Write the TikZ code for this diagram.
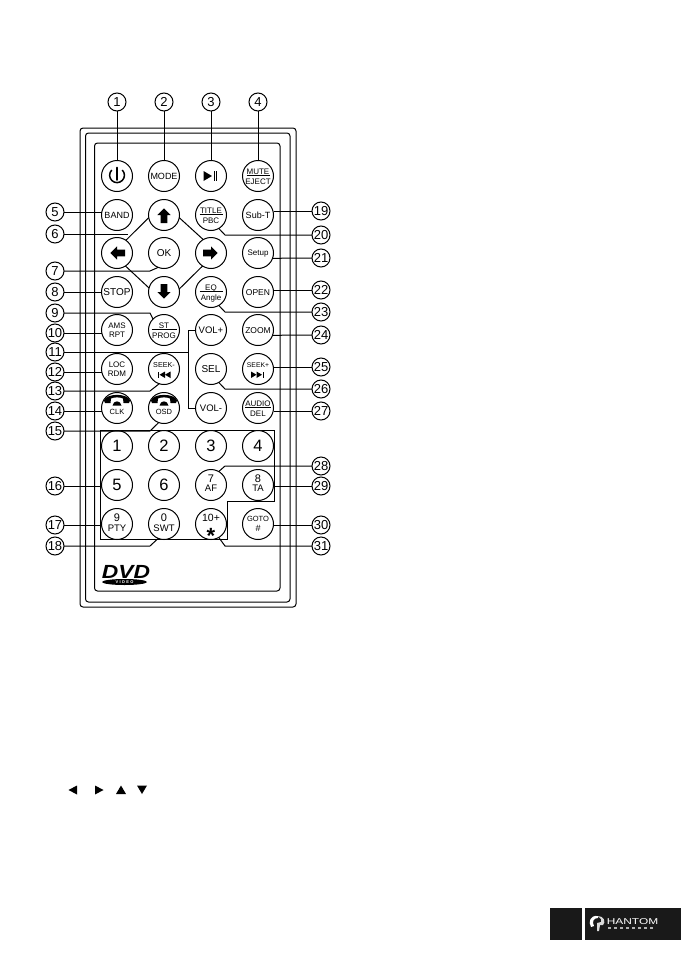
\documentclass[tikz,border=0pt]{standalone}
\usepackage{fontspec}
\setmainfont{Liberation Sans}
\usetikzlibrary{calc}
\setlength{\unitlength}{1pt}
\newcommand\fs[1]{\fontsize{#1}{#1}\selectfont}
% centred single line, two lines (top, bottom, raises), ruled two lines
\newcommand\oneL[2]{\makebox(0,0){\smash{\fs{#1}\makebox[0pt]{\raisebox{-.36em}{#2}}}}}
\newcommand\twoL[6]{\makebox(0,0){\smash{\makebox[0pt]{\raisebox{#3pt}{\fs{#1}#2}}\makebox[0pt]{\raisebox{#6pt}{\fs{#4}#5}}}}}
\newcommand\ruleL[3]{\makebox(0,0){\smash{\fs{8}\makebox[0pt]{\raisebox{2pt}{#1}}\makebox[0pt]{\rule[0pt]{#3pt}{.8pt}}\makebox[0pt]{\raisebox{-8pt}{#2}}}}}
\tikzset{
  btn/.style={circle,draw=black,fill=white,line width=1pt,minimum size=31pt,inner sep=0pt,outer sep=0pt},
  tag/.style={circle,draw=black,fill=white,line width=1pt,minimum size=18pt,inner sep=0pt,outer sep=0pt},
  wire/.style={draw=black,line width=1pt},
  body/.style={draw=black,line width=1pt,rounded corners=3pt}
}
\newcommand\tagn[3]{\node[tag] (c#1) at (#2,#3) {\oneL{13}{#1}};}
\begin{document}
\begin{tikzpicture}[x=1pt,y=-1pt]
\useasboundingbox (0,0) rectangle (681,964);
\fill[white] (0,0) rectangle (681,964);
% remote body
\path[body] (80,128) rectangle (296,607);
\path[body] (85.5,133) rectangle (290,602);
\path[body] (94.5,143) rectangle (280,591);
% key block outline
\draw[wire] (100,430) -- (274,430) -- (274,501) -- (227,501) -- (227,539) -- (100,539) -- cycle;
% buttons
\node[btn] (power) at (117,176) {};
\node[btn] (mode) at (164,176) {\oneL{9}{MODE}};
\node[btn] (play) at (211,176) {};
\node[btn] (mute) at (258,176) {\ruleL{MUTE}{EJECT}{23}};
\node[btn] (band) at (117,215) {\oneL{9}{BAND}};
\node[btn] (up) at (164,215) {};
\node[btn] (title) at (211,215) {\ruleL{TITLE}{PBC}{23}};
\node[btn] (subt) at (258,215) {\oneL{9}{Sub-T}};
\node[btn] (left) at (117,253) {};
\node[btn] (ok) at (164,253) {\oneL{10}{OK}};
\node[btn] (right) at (211,253) {};
\node[btn] (setup) at (258,253) {\oneL{8}{Setup}};
\node[btn] (stop) at (117,292) {\oneL{10}{STOP}};
\node[btn] (down) at (164,292) {};
\node[btn] (eq) at (211,292) {\ruleL{EQ}{Angle}{23}};
\node[btn] (open) at (258,292) {\oneL{8.5}{OPEN}};
\node[btn] (ams) at (117,330) {\twoL{8}{AMS}{1.7}{8}{RPT}{-7.3}};
\node[btn] (st) at (164,330) {\ruleL{ST}{PROG}{25}};
\node[btn] (volp) at (211,330) {\oneL{9.5}{VOL+}};
\node[btn] (zoom) at (258,330) {\oneL{8.5}{ZOOM}};
\node[btn] (loc) at (117,369) {\twoL{8}{LOC}{1.7}{8}{RDM}{-7.3}};
\node[btn] (seekm) at (164,369) {\twoL{7.2}{SEEK-}{2}{7}{}{0}};
\node[btn] (sel) at (211,369) {\oneL{10}{SEL}};
\node[btn] (seekp) at (258,369) {\twoL{6.8}{SEEK+}{2}{7}{}{0}};
\node[btn] (clk) at (117,408) {\twoL{7.5}{}{0}{7.5}{CLK}{-6.7}};
\node[btn] (osd) at (164,408) {\twoL{7.5}{}{0}{7.5}{OSD}{-6.7}};
\node[btn] (volm) at (211,408) {\oneL{9.5}{VOL-}};
\node[btn] (audio) at (258,408) {\ruleL{AUDIO}{DEL}{26}};
\node[btn] (k1) at (117,446) {\oneL{16.5}{1}};
\node[btn] (k2) at (164,446) {\oneL{16.5}{2}};
\node[btn] (k3) at (211,446) {\oneL{16.5}{3}};
\node[btn] (k4) at (258,446) {\oneL{16.5}{4}};
\node[btn] (k5) at (117,485) {\oneL{16.5}{5}};
\node[btn] (k6) at (164,485) {\oneL{16.5}{6}};
\node[btn] (k7) at (211,485) {\twoL{11}{7}{2.7}{9.5}{AF}{-6.7}};
\node[btn] (k8) at (258,485) {\twoL{11}{8}{2.7}{9.5}{TA}{-6.7}};
\node[btn] (k9) at (117,524) {\twoL{11}{9}{3}{9.5}{PTY}{-7}};
\node[btn] (k0) at (164,524) {\twoL{11}{0}{3}{9.5}{SWT}{-7}};
\node[btn] (k10) at (211,524) {\twoL{10.5}{10+}{2.3}{22}{\textbf{*}}{-19}};
\node[btn] (goto) at (258,524) {\twoL{7.5}{GOTO}{3}{9}{\#}{-7.5}};
% button icons
\draw[line width=1.7pt,line cap=round] (117,167.5) -- (117,180);
\draw[line width=1.5pt] (111.8,170) arc[start angle=225,end angle=-45,x radius=7.4pt,y radius=-7.4pt];
\fill (203.5,171) -- (212,176) -- (203.5,181) -- cycle;
\draw[line width=.8pt] (214.3,171) -- (214.3,181) (216.8,171) -- (216.8,181);
\foreach \n/\r in {up/0,left/90,right/-90,down/180}{
  \fill[shift={(\n)},rotate=\r] (0,-6.7) -- (6.7,0) -- (3.3,0) -- (3.3,8) -- (-3.3,8) -- (-3.3,0) -- (-6.7,0) -- cycle;
}
% skip icons
\fill (157.5,371.5) rectangle (158.7,378);
\fill (165,371.5) -- (159.5,374.7) -- (165,378) -- cycle;
\fill (170.5,371.5) -- (165,374.7) -- (170.5,378) -- cycle;
\fill (251,371.5) -- (256.5,374.7) -- (251,378) -- cycle;
\fill (256.5,371.5) -- (262,374.7) -- (256.5,378) -- cycle;
\fill (262.5,371.5) rectangle (263.7,378);
% handset icons
\foreach \n in {clk,osd}{
  \begin{scope}[shift={(\n)}]
    \fill (-13,-7.5) .. controls (-11,-15) and (11,-15) .. (13,-7.5) -- (12,-5) -- (6.5,-5) -- (6,-9.5)
       .. controls (3,-11) and (-3,-11) .. (-6,-9.5) -- (-6.5,-5) -- (-12,-5) -- cycle;
    \fill (-4.5,-2.5) .. controls (-4,-8) and (4,-8) .. (4.5,-2.5) -- cycle;
  \end{scope}
}
% numbered tags
\foreach \n/\x in {1/117,2/164,3/211,4/258}{\tagn{\n}{\x}{102}}
\foreach \n/\y in {5/212,6/234,7/271,8/292,9/313,10/333,11/352,12/372,13/391,14/411,15/431,16/486,17/525,18/546}{\tagn{\n}{55}{\y}}
\foreach \n/\y in {19/211,20/235,21/258,22/290,23/312,24/335,25/367,26/389,27/411,28/466,29/486,30/525,31/546}{\tagn{\n}{321}{\y}}
% connectors
\foreach \n/\b in {1/power,2/mode,3/play,4/mute}{\draw[wire] (c\n) -- (\b.north);}
\foreach \n/\b in {5/band,8/stop,10/ams,12/loc,14/clk,16/k5,17/k9}{\draw[wire] (c\n) -- (c\n -| \b.west);}
\foreach \n/\b in {19/subt,22/open,25/seekp,27/audio,29/k8,30/goto}{\draw[wire] (c\n) -- (c\n -| \b.east);}
\draw[wire] (c21) -- (setup.-20);
\draw[wire] (c24) -- (zoom.-20);
% left elbows
\coordinate (b6) at (128,234);
\draw[wire] (c6) -- (b6);
\foreach \n/\b/\a in {7/ok/-112,13/seekm/-108,15/osd/-110,18/k0/-112}{
  \draw[wire] (c\n) -- (c\n -| 150,0) -- (\b.\a);
}
\draw[wire] (c9) -- (c9 -| 150,0) -- (st.135);
% right elbows
\foreach \n/\b/\a in {20/title/-60,23/eq/-60,26/sel/-60,31/k10/-60}{
  \draw[wire] (c\n) -- (c\n -| 225,0) -- (\b.\a);
}
\draw[wire] (c28) -- (c28 -| 225,0) -- (k7.60);
% direction diamond
\draw[wire] (up.190) -- (left.55);
\draw[wire] (up.-10) -- (right.120);
\draw[wire] (left.-57) -- (down.165);
\draw[wire] (right.-123) -- (down.11);
% volume bracket
\draw[wire] (volp.west) -- (volp.west -| 188,0) -- (volm.west -| 188,0) -- (volm.west);
\draw[wire] (c11) -- (c11 -| 188,0);
% DVD logo
\node[inner sep=0pt,xscale=1.2,anchor=center,text=black] (dvd) at (126,571.5) {\fs{19}\textbf{\textit{DVD}}};
\fill (124.5,582) ellipse[x radius=22.5pt,y radius=3pt];
\node[inner sep=0pt,text=white] (video) at (124.5,582) {\fs{4}\textbf{V\,\,I\,\,D\,\,E\,\,O}};
% cursor symbols
\fill (68.5,790) -- (77,785.5) -- (77,794.5) -- cycle;
\fill (103.5,790) -- (95,785.5) -- (95,794.5) -- cycle;
\fill (121,785.5) -- (126,794) -- (116,794) -- cycle;
\fill (142,794) -- (147,785.5) -- (137,785.5) -- cycle;
% footer
\fill[black!90] (550,908) rectangle (582,940);
\fill[black!90] (585,908) rectangle (680.5,940);
\fill[white] (598,916) .. controls (590,915) and (588,922) .. (591,927) -- (594,926) .. controls (592,922) and (593,918) .. (598,918) -- cycle;
\fill[white!85!black] (598,916) .. controls (604,916) and (606,922) .. (603,925) -- (600,925) -- (599,931) -- (597,931) -- (597,923) -- (601,922) -- (601,919) -- cycle;
\node[inner sep=0pt,text=white,xscale=1.4] (brand) at (632.5,922) {\fs{8.5}HANTOM};
\foreach \x in {608,614,620,626,632,638,644,650}{\fill[white!70!black] (\x,927.4) rectangle +(2.5,1.6);}
\end{tikzpicture}
\end{document}
